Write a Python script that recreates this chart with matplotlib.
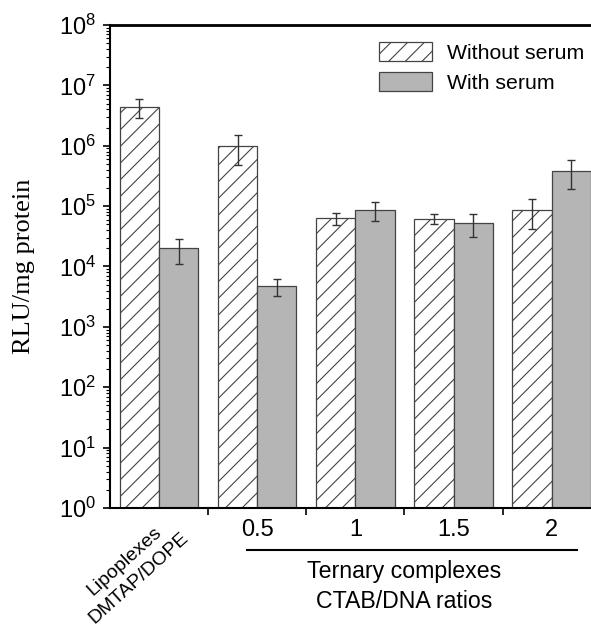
import numpy as np
import matplotlib
matplotlib.use('Agg')
import matplotlib.pyplot as plt
from matplotlib.ticker import LogLocator, FixedLocator, NullFormatter
import matplotlib.transforms as mtransforms

plt.rcParams['font.family'] = ['Liberation Sans', 'DejaVu Sans']
plt.rcParams['mathtext.fontset'] = 'custom'
plt.rcParams['mathtext.rm'] = 'Liberation Sans'
plt.rcParams['mathtext.it'] = 'Liberation Sans'
plt.rcParams['hatch.color'] = '#555555'
plt.rcParams['hatch.linewidth'] = 0.8

# data (RLU/mg protein)
groups = ['Lipoplexes\nDMTAP/DOPE', '0.5', '1', '1.5', '2']
without_serum = [4.4e6, 9.8e5, 6.3e4, 6.2e4, 8.6e4]
without_err = [1.5e6, 5.0e5, 1.4e4, 1.2e4, 4.5e4]
with_serum = [2.0e4, 4.7e3, 8.6e4, 5.3e4, 3.8e5]
with_err = [0.9e4, 1.4e3, 3.0e4, 2.2e4, 1.9e5]

fig = plt.figure(figsize=(5.91, 6.26), dpi=100)
ax = fig.add_axes([0.186, 0.1885, 0.814, 0.7716])

x = np.arange(len(groups))
w = 0.40
err_kw = dict(ecolor='#333333', elinewidth=1.0, capsize=3, capthick=1.0)

ax.bar(x - w / 2, without_serum, w, yerr=without_err, color='white',
       edgecolor='#444444', linewidth=0.9, hatch='//', label='Without serum',
       error_kw=err_kw, zorder=2)
ax.bar(x + w / 2, with_serum, w, yerr=with_err, color='#b5b5b5',
       edgecolor='#444444', linewidth=0.9, label='With serum',
       error_kw=err_kw, zorder=2)

ax.set_yscale('log')
ax.set_ylim(1, 1e8)
ax.set_xlim(-0.5, 4.4)

ax.yaxis.set_major_locator(LogLocator(base=10, numticks=20))
ax.yaxis.set_minor_locator(LogLocator(base=10, subs=np.arange(2, 10), numticks=100))
ax.yaxis.set_minor_formatter(NullFormatter())
ax.tick_params(axis='y', which='major', direction='out', length=5, width=1.2,
               labelsize=17, pad=5)
ax.tick_params(axis='y', which='minor', direction='out', length=3, width=0.8)

# boundaries between groups carry the tick marks, labels sit at the centres
ax.xaxis.set_major_locator(FixedLocator([0.5, 1.5, 2.5, 3.5]))
ax.xaxis.set_major_formatter(NullFormatter())
ax.set_xticks(x[1:], labels=groups[1:], minor=True)
ax.tick_params(axis='x', which='major', direction='out', length=5, width=1.2)
ax.tick_params(axis='x', which='minor', length=0, labelsize=17, pad=8)

ax.spines['right'].set_visible(False)
ax.spines['top'].set_linewidth(2.0)
ax.spines['left'].set_linewidth(1.5)
ax.spines['bottom'].set_linewidth(1.5)

ax.set_ylabel('RLU/mg protein', family='Liberation Serif', fontsize=19)
ax.yaxis.set_label_coords(-0.155, 0.5)

trans = mtransforms.blended_transform_factory(ax.transData, ax.transAxes)
ax.text(-0.28, -0.128, groups[0], transform=trans, rotation=42,
        rotation_mode='anchor', ha='center', va='center', fontsize=14,
        multialignment='center', linespacing=1.4)

# ternary complex group bracket
ax.plot([0.896, 4.26], [-0.087, -0.087], color='black', lw=1.5,
        transform=trans, clip_on=False)
ax.text(2.495, -0.1325, 'Ternary complexes', transform=trans, ha='center',
        va='center', fontsize=16.7)
ax.text(2.495, -0.1946, 'CTAB/DNA ratios', transform=trans, ha='center',
        va='center', fontsize=16.7)

ax.legend(loc='upper left', bbox_to_anchor=(379 / 591, 1 - 42 / 626),
          bbox_transform=fig.transFigure, frameon=False, fontsize=15.3,
          handlelength=2.5, handleheight=1.0, handletextpad=0.7,
          labelspacing=0.45, borderpad=0, borderaxespad=0)

fig.savefig('out.png', dpi=100)
